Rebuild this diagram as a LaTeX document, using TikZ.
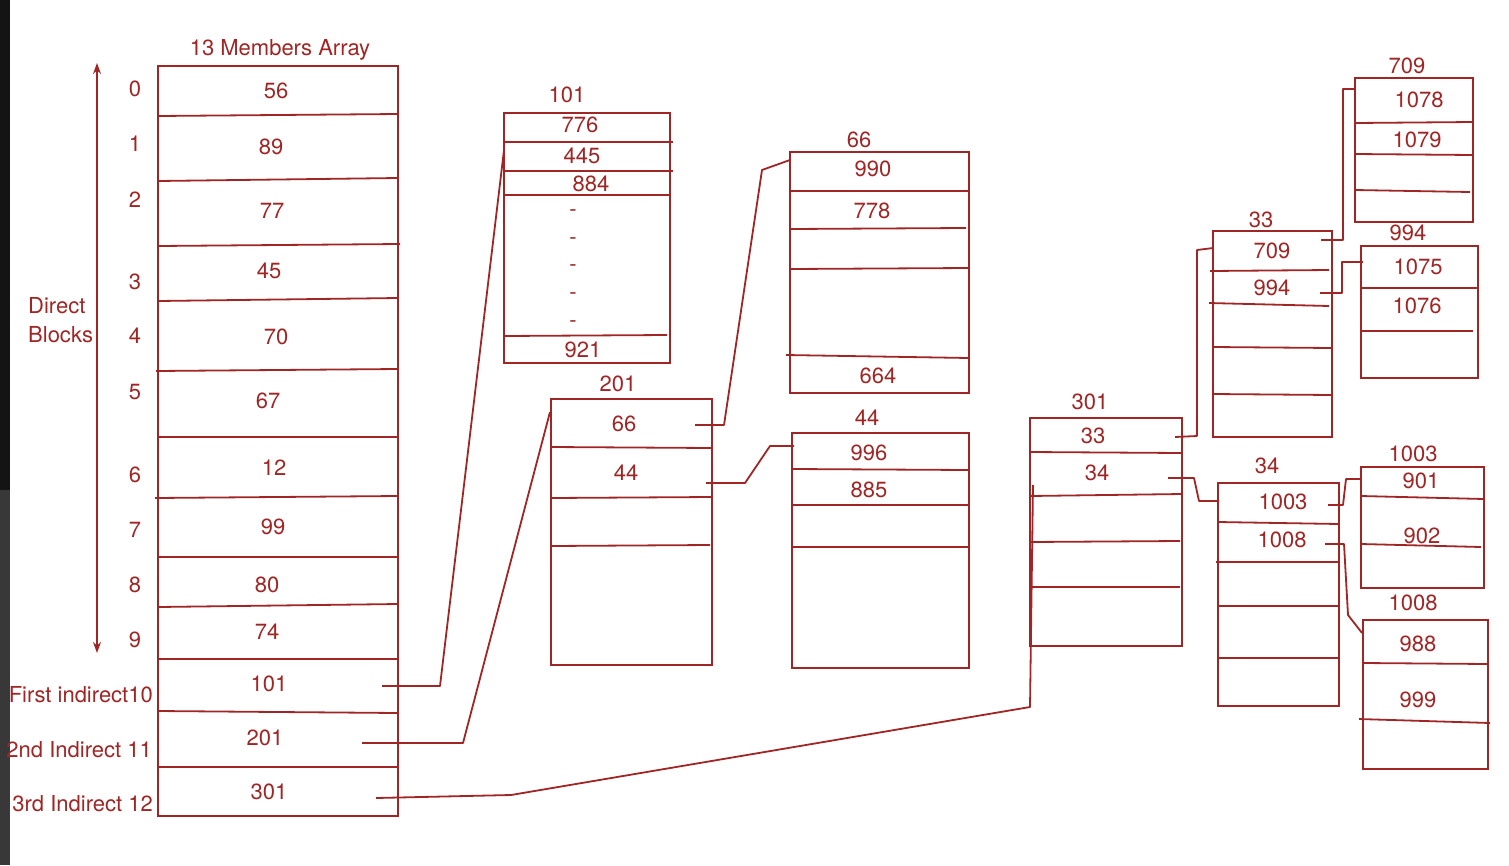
\documentclass[tikz,border=0pt]{standalone}
\usepackage{fontspec}
\setmainfont{TeX Gyre Heros}
\usetikzlibrary{arrows.meta}
\definecolor{ink}{RGB}{160,38,38}
\begin{document}
\begin{tikzpicture}[x=1pt,y=-1pt,
  blk/.style={draw=ink, line width=2pt, inner sep=0pt, rectangle},
  row/.style={draw=ink, line width=1.8pt},
  wire/.style={draw=ink, line width=1.8pt, line join=round},
  val/.style={text=ink, font=\fontsize{22}{27}\selectfont, anchor=base, inner sep=0pt},
  side/.style={val, anchor=base east},
]
\useasboundingbox (0,0) rectangle (1509,865);
\fill[white] (0,0) rectangle (1509,865);
\fill[black!92] (0,0) rectangle (10,490);
\fill[black!78] (0,490) rectangle (10,865);

% ---------- main array ----------
\node[val] (title) at (280,55) {13 Members Array};
\node[blk, minimum width=240pt, minimum height=750pt] (A) at (278,441) {};
\draw[row] (158,116)--(398,114);
\draw[row] (158,181)--(398,178);
\draw[row] (158,246)--(400,244);
\draw[row] (158,301)--(398,298);
\draw[row] (156,371)--(398,369);
\draw[row] (158,437)--(398,437);
\draw[row] (155,498)--(398,496);
\draw[row] (158,557)--(398,557);
\draw[row] (158,607)--(398,604);
\draw[row] (158,659)--(398,659);
\draw[row] (158,711)--(398,713);
\draw[row] (158,767)--(398,767);

\node[val] (a0) at (276,98) {56};
\node[val] (a1) at (271,154) {89};
\node[val] (a2) at (272,218) {77};
\node[val] (a3) at (269,278) {45};
\node[val] (a4) at (276,344) {70};
\node[val] (a5) at (268,408) {67};
\node[val] (a6) at (274,475) {12};
\node[val] (a7) at (273,534) {99};
\node[val] (a8) at (267,592) {80};
\node[val] (a9) at (267,639) {74};
\node[val] (a10) at (269,691) {101};
\node[val] (a11) at (265,745) {201};
\node[val] (a12) at (269,799) {301};

\node[val] (i0) at (135,96) {0};
\node[val] (i1) at (135,151) {1};
\node[val] (i2) at (135,207) {2};
\node[val] (i3) at (135,289) {3};
\node[val] (i4) at (135,343) {4};
\node[val] (i5) at (135,399) {5};
\node[val] (i6) at (135,482) {6};
\node[val] (i7) at (135,537) {7};
\node[val] (i8) at (135,592) {8};
\node[val] (i9) at (135,647) {9};
\node[side] (i10) at (153,702) {First indirect10};
\node[side] (i11) at (152,757) {2nd Indirect 11};
\node[side] (i12) at (153,811) {3rd Indirect 12};

\node[val, anchor=base west] (d1) at (28,313) {Direct};
\node[val, anchor=base west] (d2) at (28,342) {Blocks};
\coordinate (arT) at (97,63);
\coordinate (arB) at (97,653);
\draw[ink, line width=1.6pt, {Stealth[length=11pt,width=8pt]}-{Stealth[length=11pt,width=8pt]}] (arT) -- (arB);

% ---------- block 101 ----------
\node[val] (l101) at (567,102) {101};
\node[blk, minimum width=166pt, minimum height=250pt] (B101) at (587,238) {};
\draw[row] (504,142)--(673,142);
\draw[row] (504,171)--(673,171);
\draw[row] (504,195)--(670,195);
\draw[row] (504,336)--(667,335);
\node[val] (b101a) at (580,132) {776};
\node[val] (b101b) at (582,163) {445};
\node[val] (b101c) at (591,191) {884};
\foreach \yy/\nm in {213/da,241/db,268/dc,296/dd,324/de}
  \node[text=ink, font=\fontsize{22}{27}\selectfont, inner sep=0pt] (\nm) at (573,\yy) {-};
\node[val] (b101z) at (583,357) {921};

% ---------- block 201 ----------
\node[val] (l201) at (618,391) {201};
\node[blk, minimum width=161pt, minimum height=266pt] (B201) at (631.5,532) {};
\draw[row] (551,447)--(712,448);
\draw[row] (551,498)--(712,497);
\draw[row] (551,546)--(710,545);
\node[val] (b201a) at (624,431) {66};
\node[val] (b201b) at (626,480) {44};

% ---------- block 66 ----------
\node[val] (l66) at (859,147) {66};
\node[blk, minimum width=179pt, minimum height=241pt] (B66) at (879.5,272.5) {};
\draw[row] (790,191)--(969,191);
\draw[row] (790,229)--(966,228);
\draw[row] (790,269)--(969,268);
\draw[row] (786,355)--(969,358);
\node[val] (b66a) at (873,176) {990};
\node[val] (b66b) at (872,218) {778};
\node[val] (b66z) at (878,383) {664};

% ---------- block 44 ----------
\node[val] (l44) at (867,425) {44};
\node[blk, minimum width=177pt, minimum height=235pt] (B44) at (880.5,550.5) {};
\draw[row] (792,469)--(969,470);
\draw[row] (792,505)--(969,505);
\draw[row] (792,547)--(969,547);
\node[val] (b44a) at (869,460) {996};
\node[val] (b44b) at (869,497) {885};

% ---------- block 301 ----------
\node[val] (l301) at (1090,409) {301};
\node[blk, minimum width=152pt, minimum height=228pt] (B301) at (1106,532) {};
\draw[row] (1030,452)--(1182,453);
\draw[row] (1030,496)--(1182,494);
\draw[row] (1030,542)--(1180,541);
\draw[row] (1030,587)--(1180,587);
\node[val] (b301a) at (1093,443) {33};
\node[val] (b301b) at (1097,480) {34};

% ---------- block 33 ----------
\node[val] (l33) at (1261,227) {33};
\node[blk, minimum width=119pt, minimum height=206pt] (B33) at (1272.5,334) {};
\draw[row] (1210,271)--(1329,270);
\draw[row] (1209,303)--(1329,306);
\draw[row] (1213,347)--(1332,348);
\draw[row] (1213,394)--(1332,395);
\node[val] (b33a) at (1272,258) {709};
\node[val] (b33b) at (1272,295) {994};

% ---------- block 709 ----------
\node[val] (l709) at (1407,73) {709};
\node[blk, minimum width=118pt, minimum height=144pt] (B709) at (1414,150) {};
\draw[row] (1355,123)--(1473,122);
\draw[row] (1355,154)--(1473,155);
\draw[row] (1355,190)--(1470,192);
\node[val] (b709a) at (1419,107) {1078};
\node[val] (b709b) at (1417,147) {1079};

% ---------- block 994 ----------
\node[val] (l994) at (1408,240) {994};
\node[blk, minimum width=117pt, minimum height=132pt] (B994) at (1419.5,312) {};
\draw[row] (1361,288)--(1478,288);
\draw[row] (1361,331)--(1473,331);
\node[val] (b994a) at (1418,274) {1075};
\node[val] (b994b) at (1417,313) {1076};

% ---------- block 34 ----------
\node[val] (l34) at (1267,473) {34};
\node[blk, minimum width=121pt, minimum height=223pt] (B34) at (1278.5,594.5) {};
\draw[row] (1218,522)--(1339,524);
\draw[row] (1216,562)--(1339,562);
\draw[row] (1218,606)--(1339,606);
\draw[row] (1218,658)--(1339,658);
\node[val] (b34a) at (1283,509) {1003};
\node[val] (b34b) at (1282,547) {1008};

% ---------- block 1003 ----------
\node[val] (l1003) at (1413,461) {1003};
\node[blk, minimum width=123pt, minimum height=121pt] (B1003) at (1422.5,527.5) {};
\draw[row] (1361,496)--(1484,499);
\draw[row] (1361,544)--(1481,547);
\node[val] (b1003a) at (1421,488) {901};
\node[val] (b1003b) at (1422,543) {902};

% ---------- block 1008 ----------
\node[val] (l1008) at (1413,610) {1008};
\node[blk, minimum width=125pt, minimum height=149pt] (B1008) at (1425.5,694.5) {};
\draw[row] (1363,663)--(1488,664);
\draw[row] (1359,719)--(1490,723);
\node[val] (b1008a) at (1418,651) {988};
\node[val] (b1008b) at (1418,707) {999};

% ---------- connectors ----------
\coordinate (s101) at (382,686);   \coordinate (e101) at (504,150);
\coordinate (s201) at (362,743);   \coordinate (e201) at (550,412);
\coordinate (s301) at (376,798);   \coordinate (e301) at (1033,485);
\draw[wire] (s101) -- (440,686) -- (e101);
\draw[wire] (s201) -- (463,743) -- (e201);
\draw[wire] (s301) -- (511,795) -- (1030,707) -- (e301);

\coordinate (s66) at (695,425);   \coordinate (e66) at (790,160);
\draw[wire] (s66) -- (724,425) -- (762,170) -- (e66);
\coordinate (s44) at (706,483);   \coordinate (e44) at (794,446);
\draw[wire] (s44) -- (745,483) -- (770,446) -- (e44);

\coordinate (s33) at (1175,437);  \coordinate (e33) at (1213,248);
\draw[wire] (s33) -- (1197,436) -- (1197,250) -- (e33);
\coordinate (s34) at (1168,478);  \coordinate (e34) at (1219,501);
\draw[wire] (s34) -- (1194,478) -- (1199,501) -- (e34);

\coordinate (s709) at (1321,240); \coordinate (e709) at (1354,89);
\draw[wire] (s709) -- (1343,240) -- (1343,89) -- (e709);
\coordinate (s994) at (1320,293); \coordinate (e994) at (1363,262);
\draw[wire] (s994) -- (1342,293) -- (1342,262) -- (e994);

\coordinate (s1003) at (1328,505); \coordinate (e1003) at (1361,479);
\draw[wire] (s1003) -- (1343,505) -- (1346,479) -- (e1003);
\coordinate (s1008) at (1325,544); \coordinate (e1008) at (1362,633);
\draw[wire] (s1008) -- (1344,544) -- (1348,615) -- (e1008);
\end{tikzpicture}
\end{document}
